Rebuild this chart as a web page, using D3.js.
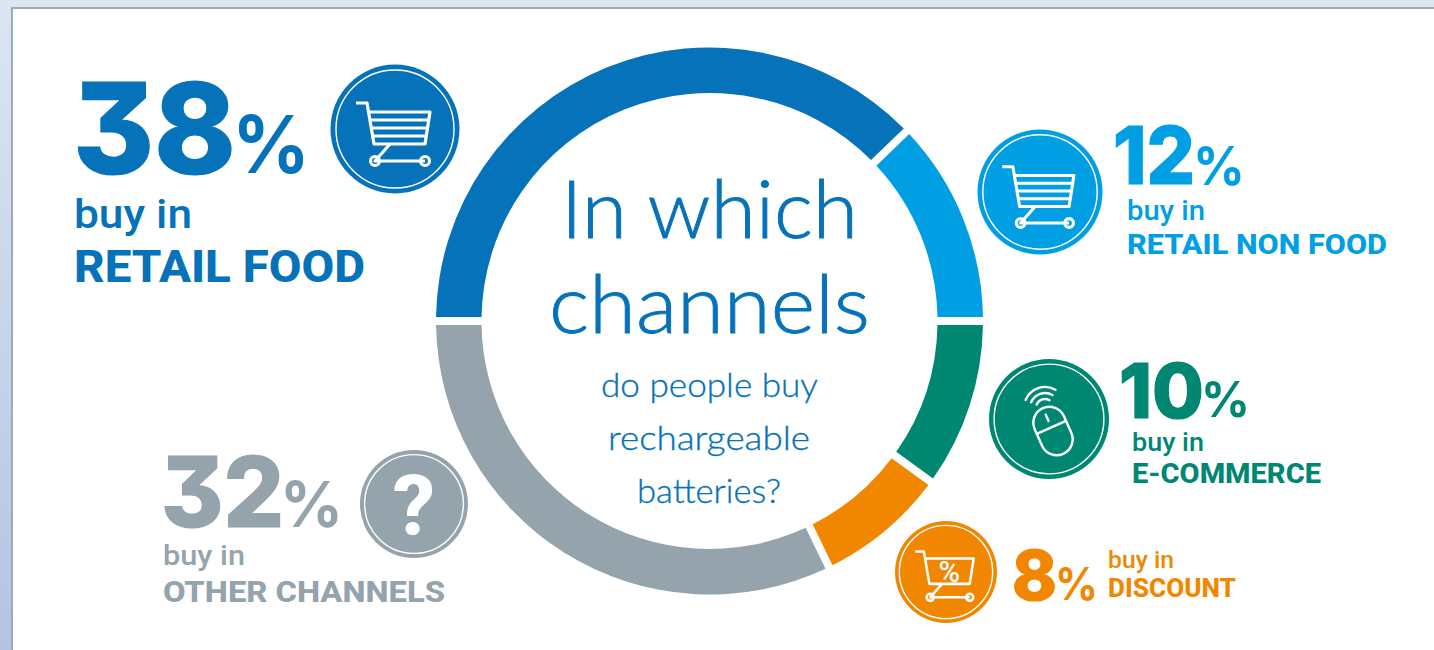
<!DOCTYPE html>
<html>
<head>
<meta charset="utf-8">
<title>In which channels</title>
<script src="https://d3js.org/d3.v7.min.js"></script>
<style>
html, body { margin: 0; padding: 0; background: #fff; overflow: hidden; }
svg { display: block; }
.num { font-family: Inter, sans-serif; font-weight: 800; font-feature-settings: "cv09" 1; stroke: currentColor; stroke-width: 1.2px; }
.pct { font-family: Inter, sans-serif; font-weight: 700; }
.buy { font-family: Roboto, sans-serif; font-weight: 500; }
.name { font-family: Roboto, sans-serif; font-weight: 800; }
.head { font-family: Lato, sans-serif; font-weight: 300; stroke: #0672b9; stroke-width: 0.9px; }
.head.small { stroke-width: 0.35px; }
</style>
</head>
<body>
<div id="chart"></div>
<script>
"use strict";

// data, the ring sweeps round to the printed percentages
var channels = ["RETAIL FOOD", "RETAIL NON FOOD", "E-COMMERCE", "DISCOUNT", "OTHER CHANNELS"];
var shares = [37.8, 12.2, 10, 7.8, 32.2];
var colors = ["#0672b9", "#009fe3", "#008772", "#f18700", "#94a3ac"];
var titleLines = ["In which", "channels"];
var subLines = ["do people buy", "rechargeable", "batteries?"];

// label layout, one row per channel
var layout = [
    {cx: 395, cy: 129, r: 64.5, icon: "cart",
     nx: 73, ny: 174, ns: 126, nw: 163, px: 232, py: 173, ps: 80, pw: 78,
     bx: 74, by: 228, bs: 41, bw: 118, tx: 74, ty: 282, ts: 44, tw: 291},
    {cx: 1040, cy: 192, r: 62.5, icon: "cart",
     nx: 1113, ny: 184, ns: 80, nw: 82, px: 1193, py: 185, ps: 53, pw: 52,
     bx: 1127, by: 220, bs: 27, bw: 78, tx: 1127, ty: 254, ts: 28.5, tw: 260},
    {cx: 1049, cy: 419, r: 60, icon: "mouse",
     nx: 1119, ny: 418, ns: 76, nw: 85, px: 1201, py: 417, ps: 49, pw: 49,
     bx: 1132, by: 451, bs: 25, bw: 72, tx: 1132, ty: 483, ts: 28, tw: 189},
    {cx: 946, cy: 572, r: 51, icon: "discount",
     nx: 1012, ny: 600, ns: 69, nw: 45, px: 1055, py: 600, ps: 45, pw: 43,
     bx: 1108, by: 568, bs: 23, bw: 66, tx: 1108, ty: 597, ts: 25, tw: 128},
    {cx: 414, cy: 504, r: 54, icon: "question",
     nx: 161, ny: 527, ns: 97, nw: 123, px: 280, py: 527, ps: 63, pw: 63,
     bx: 163, by: 565, bs: 27, bw: 82, tx: 163, ty: 602, ts: 30, tw: 282}
];

var width = 1434, height = 650;

var svg = d3.select("#chart")
    .append("svg")
    .attr("width", width)
    .attr("height", height);

// slide frame behind the chart
var defs = svg.append("defs");
var grad = defs.append("linearGradient")
    .attr("id", "frame")
    .attr("x1", 0).attr("y1", 0).attr("x2", 0).attr("y2", 1);
grad.append("stop").attr("offset", "0%").attr("stop-color", "#dce6f1");
grad.append("stop").attr("offset", "100%").attr("stop-color", "#b3c4e3");
svg.append("rect")
    .attr("width", width).attr("height", height)
    .attr("fill", "url(#frame)");
svg.append("rect")
    .attr("x", 12).attr("y", 0).attr("width", width - 12).attr("height", 8)
    .attr("fill", "#dce6f1");
svg.append("rect")
    .attr("x", 12).attr("y", 8).attr("width", width).attr("height", height)
    .attr("fill", "#fff")
    .attr("stroke", "#9aabbd")
    .attr("stroke-width", 2);

// donut, starts at nine o'clock and goes clockwise
var pie = d3.pie()
    .sort(null)
    .startAngle(-Math.PI / 2)
    .endAngle(Math.PI * 1.5)
    .value(function(d) { return d; });

var arc = d3.arc()
    .innerRadius(228)
    .outerRadius(273.5)
    .padRadius(250)
    .padAngle(7.8 / 250);

svg.append("g")
    .attr("transform", "translate(709.5,321)")
    .selectAll("path")
    .data(pie(shares))
    .join("path")
    .attr("d", arc)
    .attr("fill", function(d, i) { return colors[i]; });

// text squeezed to the width it has in the picture
function fitted(g, cls, x, y, size, w, fill, str) {
    return g.append("text")
        .attr("class", cls)
        .attr("x", x)
        .attr("y", y)
        .attr("font-size", size)
        .attr("textLength", w)
        .attr("lengthAdjust", "spacingAndGlyphs")
        .attr("fill", fill)
        .style("color", fill)
        .text(str);
}

var middle = svg.append("g");
fitted(middle, "head", 561, 238, 81, 297, colors[0], titleLines[0]);
fitted(middle, "head", 549, 333, 81, 321, colors[0], titleLines[1]);
fitted(middle, "head small", 601, 397, 33, 217, colors[0], subLines[0]);
fitted(middle, "head small", 608, 450, 33, 202, colors[0], subLines[1]);
fitted(middle, "head small", 637, 503, 33, 144, colors[0], subLines[2]);

// icons are drawn around the circle centre, at the scale of the big circle
function drawCart(g, withStripes) {
    var line = g.append("g")
        .attr("fill", "none")
        .attr("stroke", "#fff")
        .attr("stroke-width", 3.2)
        .attr("stroke-linejoin", "round");
    line.append("path").attr("d", "M-39,-26H-28L-21,15H30L35,-17H-26");
    if (withStripes) {
        line.append("path").attr("d", "M-25,-9H33M-24,-1H32M-23,7H31");
    }
    line.append("path").attr("d", "M-5,15L-20,32H30");
    [-20, 30].forEach(function(x) {
        line.append("circle").attr("cx", x).attr("cy", 32).attr("r", 4.5).attr("fill", "none");
    });
}

function drawDiscount(g) {
    drawCart(g, false);
    g.append("text")
        .attr("class", "buy")
        .attr("x", 4)
        .attr("y", 12)
        .attr("font-size", 37)
        .attr("text-anchor", "middle")
        .attr("fill", "#fff")
        .text("%");
}

function drawMouse(g) {
    var line = g.append("g")
        .attr("fill", "none")
        .attr("stroke", "#fff")
        .attr("stroke-width", 2.4)
        .attr("stroke-linecap", "round");
    var body = line.append("g").attr("transform", "translate(4,12) rotate(-24)");
    body.append("rect")
        .attr("x", -16).attr("y", -25).attr("width", 32).attr("height", 50).attr("rx", 16);
    body.append("path").attr("d", "M-16,-4H16M0,-18V-11");
    [9, 15, 21].forEach(function(rad) {
        var p = d3.path();
        p.arc(-4, -11, rad, -2.75, -1.05);
        line.append("path").attr("d", p.toString());
    });
}

function drawQuestion(g) {
    g.append("text")
        .attr("class", "name")
        .attr("x", 0)
        .attr("y", 31)
        .attr("font-size", 84)
        .attr("text-anchor", "middle")
        .attr("fill", "#fff")
        .text("?");
}

// one badge and label block per channel
channels.forEach(function(name, i) {
    var p = layout[i], c = colors[i];
    var block = svg.append("g");

    var badge = block.append("g")
        .attr("transform", "translate(" + p.cx + "," + p.cy + ")");
    badge.append("circle").attr("r", p.r).attr("fill", c);
    badge.append("circle")
        .attr("r", p.r * 0.915)
        .attr("fill", "none")
        .attr("stroke", "#fff")
        .attr("stroke-width", 1.4);

    var k = (p.icon == "cart" || p.icon == "discount") ? p.r / 64.5 : 1;
    var icon = badge.append("g").attr("transform", "scale(" + k + ")");
    if (p.icon == "cart") drawCart(icon, true);
    if (p.icon == "discount") drawDiscount(icon);
    if (p.icon == "mouse") drawMouse(icon);
    if (p.icon == "question") drawQuestion(icon);

    fitted(block, "num", p.nx, p.ny, p.ns, p.nw, c, String(Math.round(shares[i])));
    fitted(block, "pct", p.px, p.py, p.ps, p.pw, c, "%");
    fitted(block, "buy", p.bx, p.by, p.bs, p.bw, c, "buy in");
    fitted(block, "name", p.tx, p.ty, p.ts, p.tw, c, name);
});
</script>
</body>
</html>
